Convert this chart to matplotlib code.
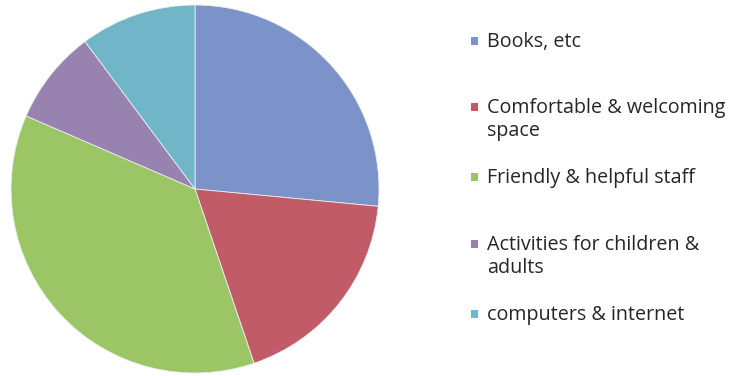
import matplotlib
matplotlib.use("Agg")
import matplotlib.pyplot as plt
from matplotlib.patches import Rectangle

categories = [
    "Books, etc",
    "Comfortable & welcoming\nspace",
    "Friendly & helpful staff",
    "Activities for children &\nadults",
    "computers & internet",
]
shares = [26.5, 18.3, 36.7, 8.3, 10.2]
colors = ["#7b93c8", "#c25b68", "#9cc666", "#9882b0", "#70b6c8"]

W, H = 732, 376
fig = plt.figure(figsize=(W / 100, H / 100), dpi=100)
fig.patch.set_facecolor("white")

# pie area: centre (195, 189) px, radius 184 px
cx, cy, r = 195, 189, 184
ax = fig.add_axes([(cx - r) / W, (H - cy - r) / H, 2 * r / W, 2 * r / H])
ax.pie(shares, colors=colors, startangle=90, counterclock=False,
       wedgeprops=dict(linewidth=0.6, edgecolor="#e8eef0"), radius=1.0)
ax.set_xlim(-1, 1)
ax.set_ylim(-1, 1)
ax.set_aspect("equal")
ax.axis("off")

# legend drawn as text entries with square swatches
row_top = [41, 107, 177, 244, 314]
for label, col, y in zip(categories, colors, row_top):
    fig.patches.append(Rectangle((471 / W, (H - y - 4) / H), 7 / W, 8 / H,
                                 transform=fig.transFigure, facecolor=col,
                                 edgecolor="none"))
    fig.text(487 / W, (H - y + 9) / H, label, ha="left", va="top",
             fontsize=14.2, family="Open Sans", color="#262626",
             linespacing=1.22)

fig.savefig("out.png", dpi=100, facecolor="white")
